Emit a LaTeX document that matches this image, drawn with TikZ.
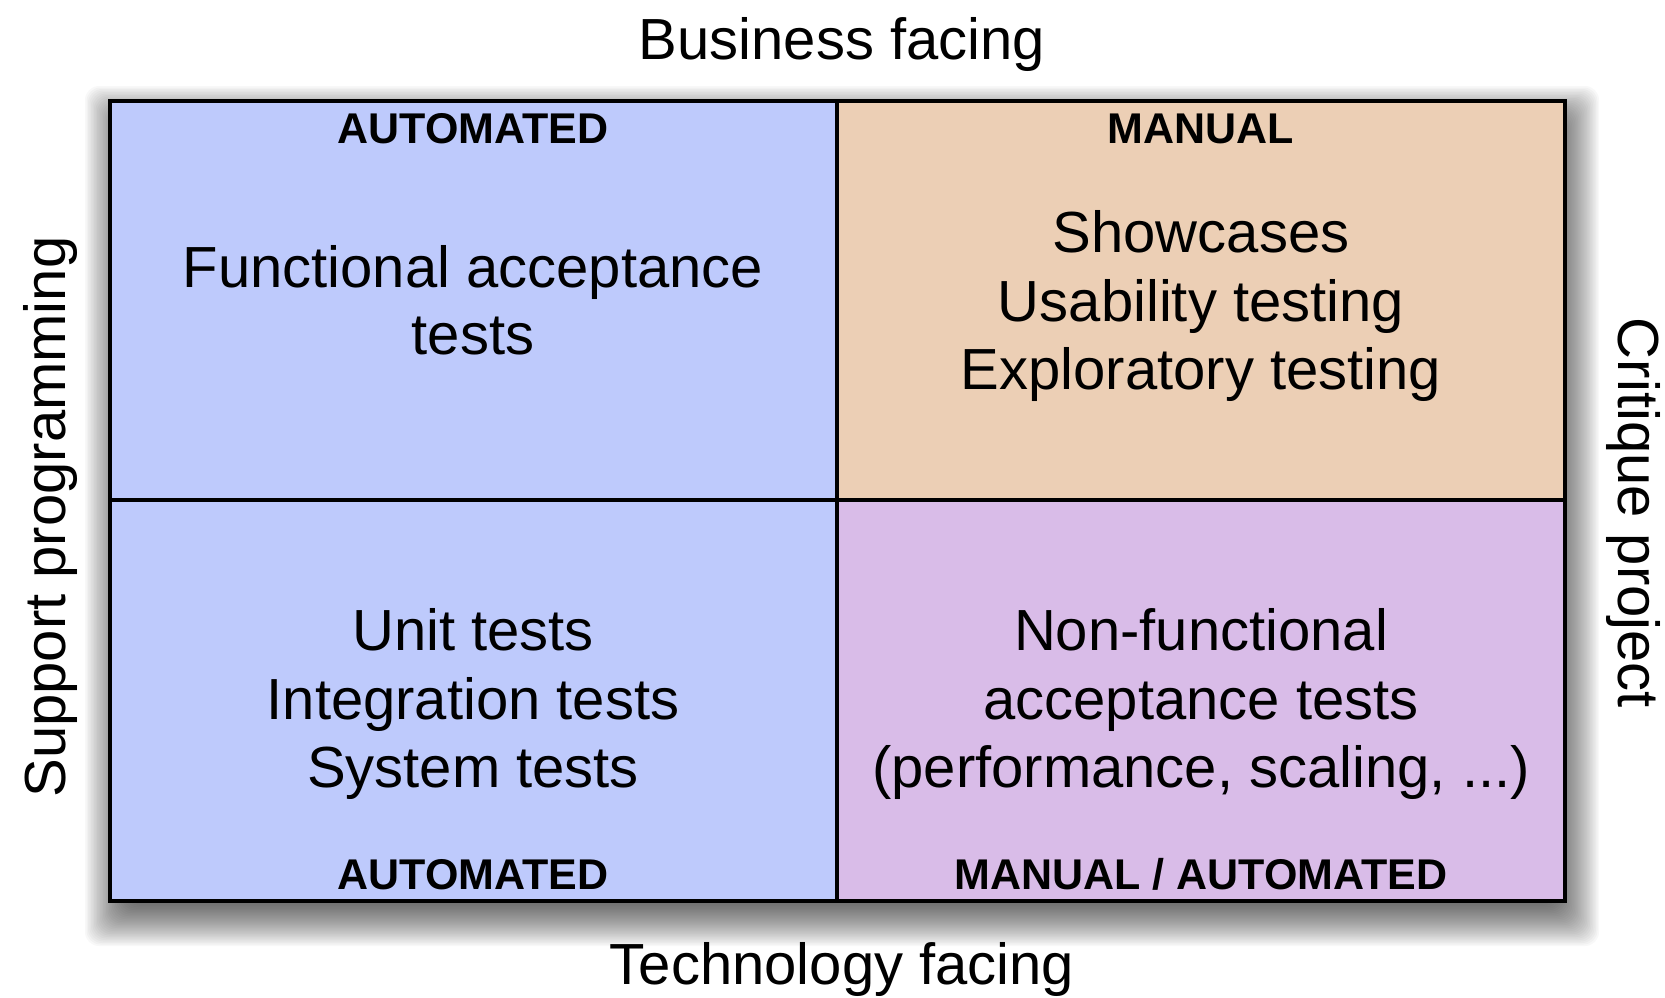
\documentclass[tikz,border=0pt]{standalone}
\usepackage{fontspec}
\setmainfont{Liberation Sans}
\definecolor{qblue}{RGB}{190,202,252}
\definecolor{qpeach}{RGB}{236,207,181}
\definecolor{qpurple}{RGB}{217,188,232}
\begin{document}
\begin{tikzpicture}[x=1pt,y=-1pt,
  big/.style={font=\fontsize{58}{68}\selectfont, inner sep=0pt, anchor=base},
  tag/.style={font=\bfseries\fontsize{43}{50}\selectfont, inner sep=0pt, anchor=base},
  grid/.style={line width=3.5pt, line cap=rect}]
\useasboundingbox (0,0) rectangle (1665,997);
% shadow
\foreach \r in {-15,-13.5,...,30}{
  \fill[black, opacity=0.028, rounded corners=14pt] (115-\r,116-\r) rectangle (1569+\r,916+\r);
}
% quadrants
\fill[qblue] (110,101) rectangle (837,901);
\fill[qpeach] (837,101) rectangle (1565,500);
\fill[qpurple] (837,500) rectangle (1565,901);
\draw[grid] (110,101) rectangle (1565,901);
\draw[grid] (837,101) -- (837,901);
\draw[grid] (110,500) -- (1565,500);
% axis labels
\node[big] (business) at (842,59) {Business facing};
\node[big] (technology) at (842,984) {Technology facing};
\node[big, rotate=90] (support) at (65,517) {Support programming};
\node[big, rotate=-90] (critique) at (1618,513) {Critique project};
% tags
\node[tag] (tlTag) at (473,143) {AUTOMATED};
\node[tag] (trTag) at (1201,143) {MANUAL};
\node[tag] (blTag) at (473,889) {AUTOMATED};
\node[tag] (brTag) at (1201,889) {MANUAL / AUTOMATED};
% top left
\node[big] (fa1) at (473,287) {Functional acceptance};
\node[big] (fa2) at (473,354) {tests};
% top right
\node[big] (tr1) at (1201,252) {Showcases};
\node[big] (tr2) at (1201,321) {Usability testing};
\node[big] (tr3) at (1201,389) {Exploratory testing};
% bottom left
\node[big] (bl1) at (473,650) {Unit tests};
\node[big] (bl2) at (473,719) {Integration tests};
\node[big] (bl3) at (473,787) {System tests};
% bottom right
\node[big] (br1) at (1201,650) {Non-functional};
\node[big] (br2) at (1201,719) {acceptance tests};
\node[big] (br3) at (1201,787) {(performance, scaling, ...)};
\end{tikzpicture}
\end{document}
